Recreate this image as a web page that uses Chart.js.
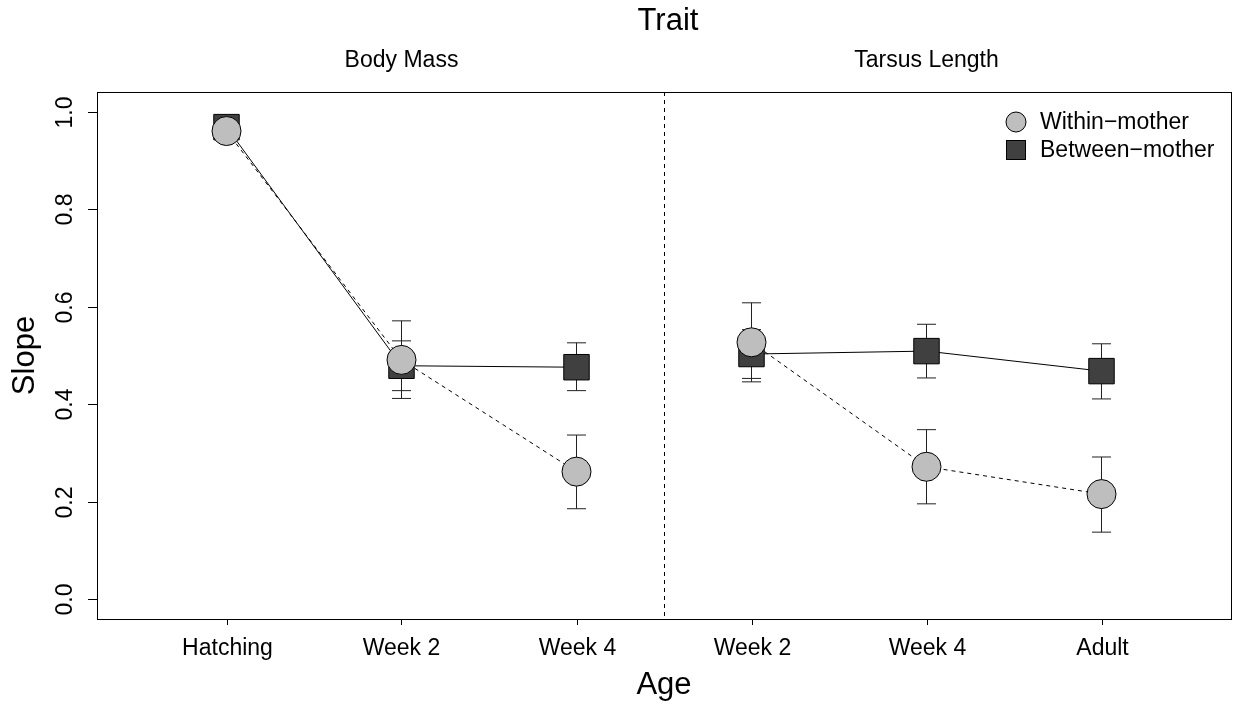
<!DOCTYPE html>
<html><head><meta charset="utf-8">
<script src="https://cdn.jsdelivr.net/npm/chart.js@4"></script>
<style>html,body{margin:0;padding:0;background:#fff}#wrap{width:1239px;height:704px;position:relative}</style>
</head><body><div id="wrap"><canvas id="c"></canvas></div>
<script>
// ---- data ----
const categories = ['Hatching', 'Week 2', 'Week 4', 'Week 2', 'Week 4', 'Adult'];
const panels = ['Body Mass', 'Tarsus Length'];
const panelCenters = [2, 5];
const panelBreak = 3.5;
const withinVals = [0.960, 0.491, 0.262, 0.527, 0.272, 0.216];
const withinLo   = [0.950, 0.412, 0.186, 0.446, 0.196, 0.138];
const withinHi   = [0.970, 0.571, 0.337, 0.608, 0.348, 0.292];
const betweenVals = [0.968, 0.479, 0.476, 0.503, 0.509, 0.468];
const betweenLo   = [0.958, 0.428, 0.428, 0.453, 0.454, 0.411];
const betweenHi   = [0.978, 0.530, 0.526, 0.553, 0.564, 0.524];
const yTicks = [0.0, 0.2, 0.4, 0.6, 0.8, 1.0];
const yTickLabels = ['0.0', '0.2', '0.4', '0.6', '0.8', '1.0'];
const seriesNames = ['Within\u2212mother', 'Between\u2212mother'];
const titles = {top: 'Trait', x: 'Age', y: 'Slope'};

const FONT = '"Liberation Sans", Arial, Helvetica, sans-serif';
const SMALL = 23, BIG = 31;
const WITHIN_FILL = '#BEBEBE', BETWEEN_FILL = '#404040';

const pts = vals => vals.map((v, i) => ({x: i + 1, y: v}));
const skipBreak = col => ctx => (ctx.p0DataIndex === 2 ? 'rgba(0,0,0,0)' : col);

const overlay = {
  id: 'overlay',
  beforeDatasetsDraw(chart) {
    const {ctx, chartArea: a, scales: {x, y}} = chart;
    ctx.save();
    ctx.strokeStyle = '#000';
    ctx.lineWidth = 1;
    ctx.setLineDash([4, 4]);
    const xd = Math.round(x.getPixelForValue(panelBreak)) + 0.5;
    ctx.beginPath(); ctx.moveTo(xd, a.top); ctx.lineTo(xd, a.bottom); ctx.stroke();
    ctx.setLineDash([]);
    const drawEB = (lo, hi) => {
      lo.forEach((l, i) => {
        const px = x.getPixelForValue(i + 1);
        const p1 = y.getPixelForValue(l), p2 = y.getPixelForValue(hi[i]);
        ctx.beginPath();
        ctx.moveTo(px, p1); ctx.lineTo(px, p2);
        ctx.moveTo(px - 9.5, p1); ctx.lineTo(px + 9.5, p1);
        ctx.moveTo(px - 9.5, p2); ctx.lineTo(px + 9.5, p2);
        ctx.stroke();
      });
    };
    ctx.strokeStyle = '#222';
    drawEB(betweenLo, betweenHi);
    drawEB(withinLo, withinHi);
    ctx.restore();
  },
  afterDraw(chart) {
    const {ctx, chartArea: a, scales: {x, y}} = chart;
    ctx.save();
    ctx.strokeStyle = '#000';
    ctx.lineWidth = 1;
    // box
    ctx.strokeRect(Math.round(a.left) + 0.5, Math.round(a.top) + 0.5,
                   Math.round(a.right - a.left), Math.round(a.bottom - a.top));
    ctx.fillStyle = '#000';
    // x ticks & labels
    ctx.font = SMALL + 'px ' + FONT;
    ctx.textAlign = 'center';
    ctx.textBaseline = 'alphabetic';
    categories.forEach((c, i) => {
      const px = Math.round(x.getPixelForValue(i + 1)) + 0.5;
      ctx.beginPath(); ctx.moveTo(px, a.bottom); ctx.lineTo(px, a.bottom + 6); ctx.stroke();
      ctx.fillText(c, px, 655);
    });
    // y ticks & labels
    yTicks.forEach((t, i) => {
      const py = Math.round(y.getPixelForValue(t)) + 0.5;
      ctx.beginPath(); ctx.moveTo(a.left - 9, py); ctx.lineTo(a.left, py); ctx.stroke();
      ctx.save();
      ctx.translate(72, py);
      ctx.rotate(-Math.PI / 2);
      ctx.fillText(yTickLabels[i], 0, 0);
      ctx.restore();
    });
    // axis titles
    ctx.font = BIG + 'px ' + FONT;
    ctx.textBaseline = 'middle';
    const cx = x.getPixelForValue(panelBreak);
    ctx.fillText(titles.top, cx + 4, 21);
    ctx.fillText(titles.x, cx, 685);
    ctx.save();
    ctx.translate(25, (a.top + a.bottom) / 2);
    ctx.rotate(-Math.PI / 2);
    ctx.fillText(titles.y, 0, 0);
    ctx.restore();
    // panel titles
    ctx.font = SMALL + 'px ' + FONT;
    panels.forEach((p, i) => ctx.fillText(p, x.getPixelForValue(panelCenters[i]), 61));
    // legend
    ctx.textAlign = 'left';
    const lx = 1016;
    ctx.beginPath(); ctx.arc(lx, 122, 10, 0, Math.PI * 2);
    ctx.fillStyle = WITHIN_FILL; ctx.fill(); ctx.stroke();
    ctx.fillStyle = BETWEEN_FILL;
    ctx.fillRect(lx - 9.5, 140.5, 19, 19); ctx.strokeRect(lx - 9.5, 140.5, 19, 19);
    ctx.fillStyle = '#000';
    ctx.fillText(seriesNames[0], 1040, 123);
    ctx.fillText(seriesNames[1], 1040, 151);
    ctx.restore();
  }
};

new Chart(document.getElementById('c'), {
  type: 'line',
  data: {
    datasets: [
      {label: 'withinLine', data: pts(withinVals), borderColor: '#000', borderWidth: 1,
       borderDash: [4, 4], pointRadius: 0, fill: false, tension: 0, order: 4,
       segment: {borderColor: skipBreak('#000')}},
      {label: 'betweenLine', data: pts(betweenVals), borderColor: '#000', borderWidth: 1,
       pointRadius: 0, fill: false, tension: 0, order: 3,
       segment: {borderColor: skipBreak('#000')}},
      {label: seriesNames[1], data: pts(betweenVals), showLine: false, pointStyle: 'rect',
       pointRadius: 18, pointBackgroundColor: BETWEEN_FILL, pointBorderColor: '#000',
       pointBorderWidth: 1, order: 1},
      {label: seriesNames[0], data: pts(withinVals), showLine: false, pointStyle: 'circle',
       pointRadius: 14.5, pointBackgroundColor: WITHIN_FILL, pointBorderColor: '#000',
       pointBorderWidth: 1, order: 0}
    ]
  },
  options: {
    responsive: true, maintainAspectRatio: false, animation: false,
    layout: {autoPadding: false, padding: {top: 92, right: 8, bottom: 0, left: 0}},
    plugins: {legend: {display: false}, tooltip: {enabled: false}},
    scales: {
      x: {type: 'linear', min: 0.26, max: 6.74, position: 'bottom',
          afterBuildTicks: s => { s.ticks = categories.map((c, i) => ({value: i + 1})); },
          afterFit: s => { s.height = 85; },
          ticks: {display: false}, grid: {display: false}, border: {display: false}},
      y: {type: 'linear', min: -0.04, max: 1.04, position: 'left',
          afterBuildTicks: s => { s.ticks = yTicks.map(v => ({value: v})); },
          afterFit: s => { s.width = 97; },
          ticks: {display: false}, grid: {display: false}, border: {display: false}}
    }
  },
  plugins: [overlay]
});
</script></body></html>
